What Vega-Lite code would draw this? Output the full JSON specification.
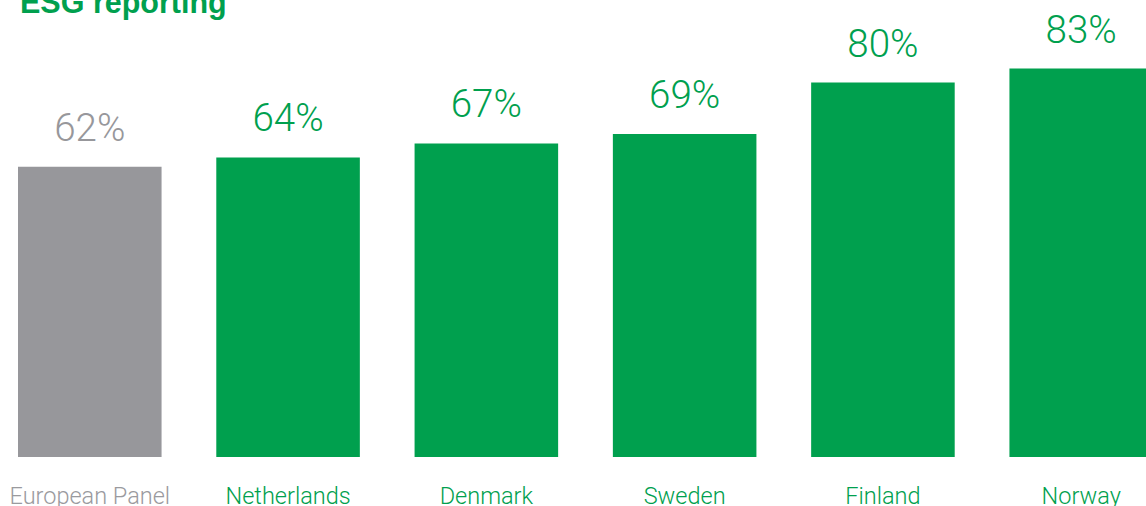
{
  "$schema": "https://vega.github.io/schema/vega-lite/v6.json",
  "autosize": {"type": "none"},
  "padding": {"left": 0, "top": 40, "right": 0, "bottom": 49},
  "width": 1171,
  "height": 417,
  "background": "white",
  "title": {
    "text": "ESG reporting",
    "anchor": "start",
    "frame": "group",
    "font": "Liberation Sans",
    "fontWeight": "bold",
    "fontSize": 30.5,
    "color": "#00a04e",
    "baseline": "alphabetic",
    "offset": -32,
    "dx": 20
  },
  "data": {
    "values": [
      {"country": "European Panel", "share": 0.62},
      {"country": "Netherlands", "share": 0.64},
      {"country": "Denmark", "share": 0.67},
      {"country": "Sweden", "share": 0.69},
      {"country": "Finland", "share": 0.80},
      {"country": "Norway", "share": 0.83}
    ]
  },
  "config": {"view": {"stroke": null}},
  "encoding": {
    "x": {
      "field": "country",
      "type": "nominal",
      "sort": null,
      "scale": {"paddingInner": 0.276, "paddingOuter": 0.0908},
      "axis": {
        "title": null,
        "domain": false,
        "ticks": false,
        "tickSize": 0,
        "labelAngle": 0,
        "labelFont": "Roboto",
        "labelFontWeight": 300,
        "labelFontSize": 23.5,
        "labelBaseline": "alphabetic",
        "labelPadding": 46,
        "labelColor": {"condition": {"test": "datum.value === 'European Panel'", "value": "#9a9a9e"}, "value": "#00a04e"}
      }
    },
    "y": {
      "field": "share",
      "type": "quantitative",
      "scale": {"domain": [0, 0.891], "nice": false},
      "axis": null
    },
    "color": {
      "condition": {"test": "datum.country === 'European Panel'", "value": "#97979b"},
      "value": "#00a04e"
    }
  },
  "layer": [
    {"mark": {"type": "bar"}},
    {
      "mark": {"type": "text", "font": "Roboto", "fontWeight": 300, "fontSize": 38.5, "baseline": "alphabetic", "dy": -26},
      "encoding": {
        "text": {"field": "share", "type": "quantitative", "format": ".0%"}
      }
    }
  ]
}
